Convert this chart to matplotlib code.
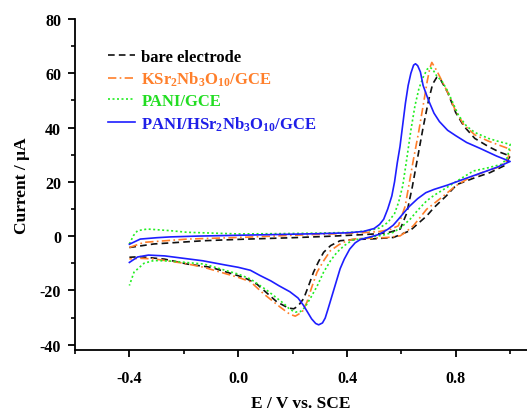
import matplotlib
matplotlib.use("Agg")
import matplotlib.pyplot as plt
from matplotlib.ticker import MultipleLocator

plt.rcParams['font.family'] = ['Liberation Serif', 'DejaVu Serif']
plt.rcParams['font.weight'] = 'bold'
plt.rcParams['mathtext.fontset'] = 'custom'
plt.rcParams['mathtext.rm'] = 'Liberation Serif:bold'
plt.rcParams['mathtext.bf'] = 'Liberation Serif:bold'
plt.rcParams['mathtext.it'] = 'Liberation Serif:bold:italic'
plt.rcParams['mathtext.default'] = 'rm'

# ---- data (potential V vs SCE, current uA) : forward scan then reverse scan ----
bare_E = [-0.40, -0.31, -0.126, 0.033, 0.20, 0.35, 0.45, 0.52, 0.56, 0.596, 0.62, 0.64, 0.66,
          0.68, 0.70, 0.715, 0.73, 0.745, 0.77, 0.80, 0.83, 0.87, 0.92, 0.96, 1.00,
          0.98, 0.926, 0.87, 0.804, 0.767, 0.72, 0.693, 0.66, 0.632, 0.571, 0.50, 0.42,
          0.375, 0.34, 0.314, 0.295, 0.277, 0.26, 0.241, 0.22, 0.204, 0.185, 0.143, 0.07,
          0.033, 0.0, -0.10, -0.187, -0.27, -0.36, -0.40]
bare_I = [-4.2, -2.9, -1.7, -1.1, -0.6, 0.0, 0.5, 0.9, 1.5, 2.6, 8.5, 18.0, 29.0,
          40.0, 50.0, 56.0, 58.5, 57.5, 53.0, 45.5, 40.5, 36.0, 33.0, 31.0, 29.5,
          26.0, 23.4, 21.5, 19.0, 15.0, 10.5, 7.4, 4.5, 2.0, -0.5, -1.0, -1.3,
          -1.7, -3.5, -6.0, -9.5, -13.3, -18.0, -23.0, -25.8, -26.8, -26.5, -24.3, -17.8,
          -15.8, -14.6, -11.5, -10.3, -8.5, -7.6, -7.8]

ksr_E = [-0.40, -0.346, -0.187, 0.033, 0.20, 0.35, 0.45, 0.52, 0.56, 0.589, 0.614, 0.644, 0.663,
         0.68, 0.695, 0.705, 0.712, 0.73, 0.75, 0.77, 0.80, 0.83, 0.87, 0.92, 0.96, 1.00,
         0.99, 0.96, 0.90, 0.85, 0.80, 0.755, 0.72, 0.693, 0.67, 0.644, 0.62, 0.596, 0.55,
         0.48, 0.43, 0.40, 0.37, 0.339, 0.315, 0.29, 0.27, 0.253, 0.235, 0.21, 0.19, 0.155,
         0.094, 0.045, 0.0, -0.126, -0.20, -0.31, -0.36, -0.40]
ksr_I = [-4.2, -2.3, -1.1, -0.4, 0.3, 0.8, 1.2, 1.7, 2.5, 3.8, 11.0, 28.0, 38.0,
         48.0, 57.0, 62.0, 64.0, 61.0, 57.0, 53.0, 46.0, 41.0, 37.3, 35.0, 33.5, 32.0,
         28.0, 25.5, 23.5, 21.5, 18.5, 14.8, 12.0, 9.9, 7.0, 3.8, 1.8, 0.1, -0.5,
         -0.8, -1.0, -1.7, -3.2, -5.4, -9.0, -13.3, -19.0, -24.3, -28.0, -29.5, -28.8, -26.2,
         -21.3, -16.8, -15.2, -11.5, -10.0, -8.4, -8.2, -8.4]

pani_E = [-0.40, -0.385, -0.37, -0.334, -0.25, -0.187, 0.0, 0.15, 0.30, 0.42, 0.48, 0.52, 0.55,
          0.575, 0.59, 0.605, 0.62, 0.635, 0.65, 0.665, 0.68, 0.695, 0.705, 0.715, 0.73,
          0.75, 0.77, 0.79, 0.81, 0.84, 0.87, 0.92, 0.96, 1.00,
          0.99, 0.97, 0.92, 0.865, 0.816, 0.767, 0.72, 0.693, 0.66, 0.632, 0.60, 0.571, 0.53,
          0.48, 0.42, 0.39, 0.363, 0.34, 0.314, 0.29, 0.265, 0.245, 0.229, 0.21, 0.19, 0.167,
          0.106, 0.045, 0.0, -0.126, -0.25, -0.31, -0.346, -0.383, -0.40]
pani_I = [-2.9, 0.2, 2.0, 2.6, 2.0, 1.4, 0.8, 0.9, 1.1, 1.4, 2.0, 3.0, 5.0,
          8.3, 12.5, 18.5, 28.5, 39.0, 48.0, 54.5, 58.5, 61.5, 62.2, 61.5, 59.0,
          57.0, 53.5, 49.0, 44.5, 40.5, 38.2, 36.0, 34.8, 33.8,
          29.0, 26.5, 25.2, 24.0, 21.0, 17.9, 15.0, 13.0, 9.5, 6.2, 3.3, 1.4, 0.3,
          -0.5, -1.5, -3.5, -6.0, -9.0, -13.3, -18.5, -23.0, -26.3, -27.8, -28.0, -27.0, -24.8,
          -20.0, -15.8, -14.0, -10.3, -9.2, -9.0, -10.0, -13.3, -18.2]

hsr_E = [-0.40, -0.36, -0.30, -0.25, -0.15, 0.0, 0.15, 0.30, 0.40, 0.46, 0.50, 0.52, 0.535,
         0.55, 0.565, 0.575, 0.585, 0.595, 0.605, 0.615, 0.625, 0.635, 0.645, 0.652, 0.66,
         0.67, 0.68, 0.70, 0.72, 0.74, 0.77, 0.80, 0.84, 0.89, 0.95, 1.00,
         0.95, 0.90, 0.83, 0.77, 0.72, 0.69, 0.66, 0.63, 0.61, 0.59, 0.57, 0.55, 0.52, 0.49,
         0.45, 0.43, 0.41, 0.39, 0.375, 0.36, 0.345, 0.33, 0.32, 0.31, 0.296, 0.285, 0.27,
         0.255, 0.24, 0.22, 0.19, 0.15, 0.12, 0.08, 0.045, 0.0, -0.05, -0.13, -0.20, -0.27,
         -0.33, -0.37, -0.40]
hsr_I = [-3.0, -1.1, -0.6, -0.3, 0.0, 0.3, 0.6, 0.9, 1.2, 1.7, 2.8, 4.3, 6.2,
         10.0, 14.8, 20.0, 27.0, 33.0, 41.0, 49.0, 55.5, 60.0, 63.0, 63.5, 62.8,
         60.5, 55.5, 50.0, 45.3, 42.2, 39.0, 37.0, 34.5, 32.3, 29.5, 27.5,
         25.3, 23.5, 21.0, 18.8, 17.2, 16.0, 13.8, 11.0, 8.7, 6.3, 4.0, 2.5, 0.7, -0.2,
         -1.2, -2.5, -4.8, -8.5, -12.0, -17.0, -22.0, -27.0, -30.2, -32.0, -32.7, -32.2, -30.5,
         -28.0, -25.5, -22.8, -20.5, -18.3, -16.5, -14.5, -12.6, -11.5, -10.6, -9.1, -8.2, -7.3,
         -7.0, -7.7, -9.7]

labels = ['bare electrode', r'KSr$_2$Nb$_3$O$_{10}$/GCE', 'PANI/GCE',
          r'PANI/HSr$_2$Nb$_3$O$_{10}$/GCE']
colors = ['#111111', '#FF7F2A', '#22EE22', '#1E1EFF']
text_colors = ['#000000', '#FF7F2A', '#22DD22', '#1E1EE8']
styles = [(0, (4, 2.5)), (0, (5, 2, 1, 2)), (0, (1.2, 1.5)), '-']

fig = plt.figure(figsize=(5.27, 4.14), dpi=100)
ax = fig.add_axes([0.1423, 0.152, 0.8577, 0.7997])

series = [(bare_E, bare_I), (ksr_E, ksr_I), (pani_E, pani_I), (hsr_E, hsr_I)]
for (E, I), c, ls, lab in zip(series, colors, styles, labels):
    ax.plot(E, I, color=c, linestyle=ls, linewidth=1.2, label=lab)

ax.set_xlim(-0.6, 1.062)
ax.set_ylim(-42, 80)
ax.xaxis.set_minor_locator(MultipleLocator(0.2))
ax.yaxis.set_minor_locator(MultipleLocator(10))
ax.set_xticks([-0.4, 0.0, 0.4, 0.8])
ax.set_xticklabels(['-0.4', '0.0', '0.4', '0.8'])
ax.set_yticks([-40, -20, 0, 20, 40, 60, 80])
ax.set_yticklabels(['-40', '-20', '0', '20', '40', '60', '80'])

for s in ['top', 'right']:
    ax.spines[s].set_visible(False)
for s in ['left', 'bottom']:
    ax.spines[s].set_linewidth(1.3)

ax.tick_params(which='major', direction='out', length=5, width=1.3, labelsize=11.5)
ax.tick_params(axis='x', which='major', pad=9)
ax.tick_params(axis='y', which='major', pad=5)
ax.tick_params(which='minor', direction='out', length=3, width=1.2)

ax.set_xlabel('E / V vs. SCE', fontsize=12.5, fontweight='bold', labelpad=7)
ax.set_ylabel('Current / μA', fontsize=12.5, fontweight='bold', labelpad=7)

leg = ax.legend(loc='upper left', bbox_to_anchor=(0.04, 0.955), frameon=False,
                fontsize=12, handlelength=1.6, handletextpad=0.4, labelspacing=0.3)
for t, tc in zip(leg.get_texts(), text_colors):
    t.set_color(tc)
    t.set_fontweight('bold')

fig.savefig('out.png', dpi=100)
